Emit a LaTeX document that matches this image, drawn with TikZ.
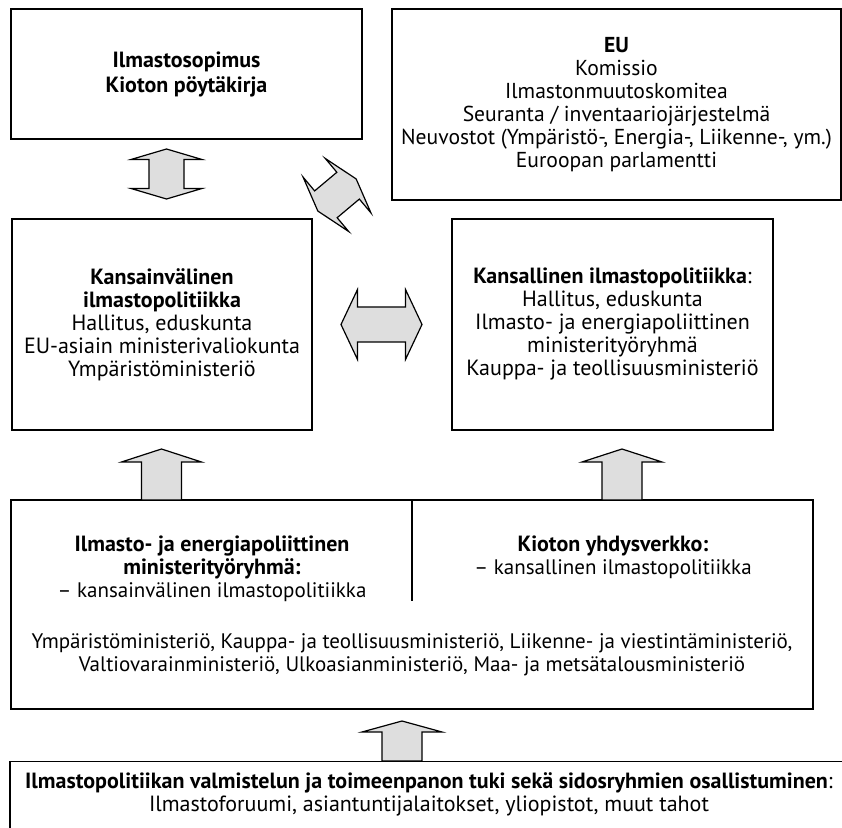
\documentclass[tikz,border=0pt]{standalone}
\usepackage{fontspec}
\setmainfont{PT Sans}
\definecolor{arrowgray}{RGB}{222,222,222}
\begin{document}
\begin{tikzpicture}[x=0.5pt,y=-0.5pt,
  box/.style={draw,line width=0.7pt,align=center,inner sep=0pt,font=\fontsize{11}{11.5}\selectfont},
  txt/.style={align=center,inner sep=0pt,font=\fontsize{11}{11.5}\selectfont},
  blockarrow/.style={draw,line width=0.6pt,fill=arrowgray,line join=miter}]
\useasboundingbox (0,0) rectangle (842,828);
\clip (0,0) rectangle (842,828);
% boxes
\node[box,minimum width=175.5pt,minimum height=65pt,font=\fontsize{11}{12.5}\selectfont] (sopimus) at (186.5,74) {\textbf{Ilmastosopimus}\\\textbf{Kioton pöytäkirja}};
\node[box,minimum width=224.5pt,minimum height=95.5pt,font=\fontsize{10.8}{11.5}\selectfont] (eu) at (616.5,104.5) {\textbf{EU}\\Komissio\\Ilmastonmuutoskomitea\\Seuranta / inventaariojärjestelmä\\Neuvostot (Ympäristö-, Energia-, Liikenne-, ym.)\\Euroopan parlamentti};
\node[box,minimum width=150pt,minimum height=105.5pt] (kansv) at (162,324.5) {\textbf{Kansainvälinen}\\\textbf{ilmastopolitiikka}\\Hallitus, eduskunta\\EU-asiain ministerivaliokunta\\Ympäristöministeriö};
\node[box,minimum width=160.5pt,minimum height=105.5pt] (kansl) at (612.5,324.5) {\textbf{Kansallinen ilmastopolitiikka}:\\Hallitus, eduskunta\\Ilmasto- ja energiapoliittinen\\ministerityöryhmä\\Kauppa- ja teollisuusministeriö};
\node[box,minimum width=401pt,minimum height=104.5pt] (ryhma) at (412,604.5) {};
\coordinate (jako) at (412,601);
\draw[line width=0.7pt] (ryhma.north) -- (jako);
\coordinate (oik) at (613,0);
\node[txt] (ryhmavas) at (212,569) {\textbf{Ilmasto- ja energiapoliittinen}\\\textbf{ministerityöryhmä:}\\{\fontsize{10.5}{11.5}\selectfont – kansainvälinen ilmastopolitiikka}};
\node[txt,anchor=north] (ryhmaoik) at (ryhmavas.north -| oik) {\textbf{Kioton yhdysverkko:}\\{\fontsize{10.5}{11.5}\selectfont – kansallinen ilmastopolitiikka}};
\node[txt,font=\fontsize{10.5}{11.5}\selectfont] (ministeriot) at (412,655) {Ympäristöministeriö, Kauppa- ja teollisuusministeriö, Liikenne- ja viestintäministeriö,\\Valtiovarainministeriö, Ulkoasianministeriö, Maa- ja metsätalousministeriö};
\node[box,minimum width=419pt,minimum height=50pt,anchor=north] (tuki) at (429,761) {};
\node[txt] (tukiteksti) at (429,794) {\textbf{Ilmastopolitiikan valmistelun ja toimeenpanon tuki sekä sidosryhmien osallistuminen}:\\Ilmastoforuumi, asiantuntijalaitokset, yliopistot, muut tahot};
% block arrows
\coordinate (n1) at (166.5,174);
\coordinate (n2) at (337,195);
\coordinate (n3) at (381.5,324.5);
\coordinate (n4) at (161.5,500);
\coordinate (n5) at (622,500);
\coordinate (n6) at (402,761);
\draw[blockarrow,shift={(n1)}] (0,-25) -- (35.5,-14.5) -- (17.5,-14.5) -- (17.5,14.5) -- (35.5,14.5) -- (0,25) -- (-35.5,14.5) -- (-17.5,14.5) -- (-17.5,-14.5) -- (-35.5,-14.5) -- cycle;
\draw[blockarrow,shift={(n2)},rotate=-50] (0,-25) -- (35.5,-14.5) -- (17.5,-14.5) -- (17.5,14.5) -- (35.5,14.5) -- (0,25) -- (-35.5,14.5) -- (-17.5,14.5) -- (-17.5,-14.5) -- (-35.5,-14.5) -- cycle;
\draw[blockarrow,shift={(n3)}] (-40.5,0) -- (-24,-35) -- (-24,-17.5) -- (24,-17.5) -- (24,-35) -- (40.5,0) -- (24,35) -- (24,17.5) -- (-24,17.5) -- (-24,35) -- cycle;
\draw[blockarrow,shift={(n4)}] (-20,0) -- (-20,-38) -- (-40,-38) -- (0,-51) -- (40,-38) -- (20,-38) -- (20,0) -- cycle;
\draw[blockarrow,shift={(n5)}] (-20,0) -- (-20,-38) -- (-40,-38) -- (0,-51) -- (40,-38) -- (20,-38) -- (20,0) -- cycle;
\draw[blockarrow,shift={(n6)}] (-20,0) -- (-20,-29) -- (-40,-29) -- (0,-40) -- (40,-29) -- (20,-29) -- (20,0) -- cycle;
\end{tikzpicture}
\end{document}
